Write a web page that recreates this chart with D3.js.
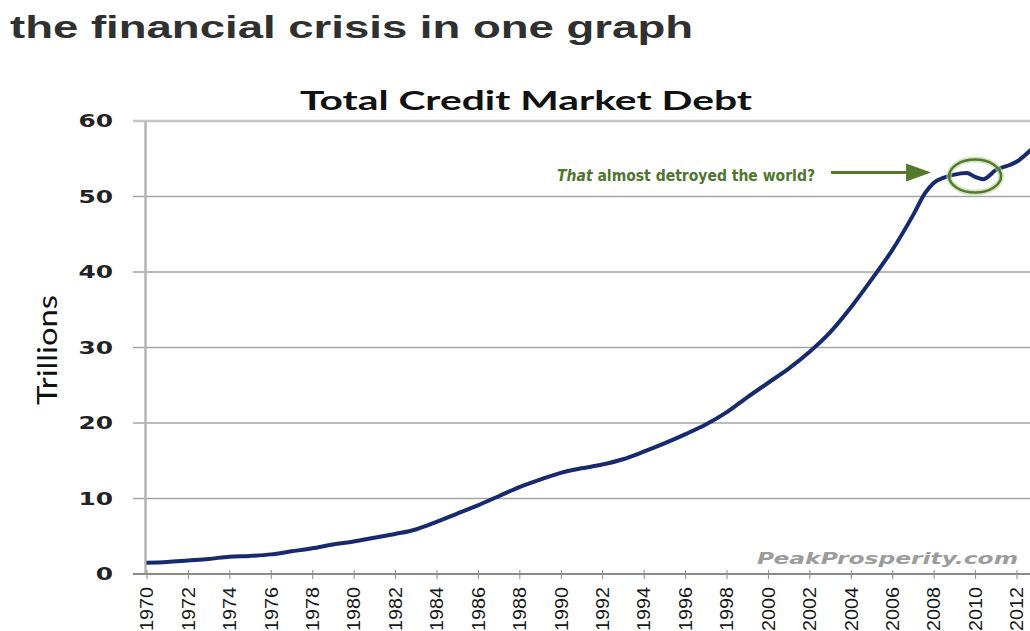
<!DOCTYPE html>
<html>
<head>
<meta charset="utf-8">
<script src="https://cdn.jsdelivr.net/npm/d3@7"></script>
<style>
  body { margin: 0; background: #fff; }
  svg { display: block; }
</style>
</head>
<body>
<svg width="1030" height="631"></svg>
<script>
// values (trillions of dollars)
let years = [1970, 1971, 1972, 1973, 1974, 1975, 1976, 1977, 1978, 1979,
             1980, 1981, 1982, 1983, 1984, 1985, 1986, 1987, 1988, 1989,
             1990, 1991, 1992, 1993, 1994, 1995, 1996, 1997, 1998, 1999,
             2000, 2001, 2002, 2003, 2004, 2005, 2006, 2007, 2007.6, 2008,
             2008.5, 2009, 2009.6, 2010, 2010.4, 2011, 2011.7, 2012, 2012.7];
let debt = [1.5, 1.6, 1.8, 2.0, 2.3, 2.4, 2.6, 3.0, 3.4, 3.9,
            4.3, 4.8, 5.3, 5.9, 6.9, 8.0, 9.1, 10.3, 11.5, 12.5,
            13.4, 14.0, 14.5, 15.2, 16.2, 17.3, 18.5, 19.8, 21.4, 23.4,
            25.3, 27.2, 29.4, 32.0, 35.3, 39.0, 42.9, 47.5, 50.5, 51.8,
            52.5, 52.9, 53.1, 52.6, 52.3, 53.5, 54.2, 54.6, 56.2];
let yTicks = [0, 10, 20, 30, 40, 50, 60];
let xTicks = d3.range(1970, 2013, 2);
let title = "the financial crisis in one graph";
let chartTitle = "Total Credit Market Debt";
let yLabel = "Trillions";
let note = ["That", " almost detroyed the world?"];
let noteYear = 2010, noteValue = 52.7;
let credit = "PeakProsperity.com";

let svg = d3.select("svg");

let x = d3.scaleLinear().domain([1970, 2012]).range([146.5, 1016.5]);
let y = d3.scaleLinear().domain([0, 60]).range([574, 121]);

// page title
svg.append("text")
  .attr("x", 10).attr("y", 38)
  .attr("font-family", "Liberation Sans, Arial, sans-serif")
  .attr("font-weight", "bold")
  .attr("font-size", 32)
  .attr("fill", "#303030")
  .attr("textLength", 683).attr("lengthAdjust", "spacingAndGlyphs")
  .text(title);

// chart title
svg.append("text")
  .attr("x", 300).attr("y", 110)
  .attr("font-family", "Lato, Open Sans, sans-serif")
  .attr("font-weight", "bold")
  .attr("font-size", 26)
  .attr("fill", "#111")
  .attr("textLength", 452).attr("lengthAdjust", "spacingAndGlyphs")
  .text(chartTitle);

// gridlines
svg.append("g").selectAll("line")
  .data(yTicks.filter(d => d > 0))
  .enter().append("line")
  .attr("x1", 133).attr("x2", 1030)
  .attr("y1", d => y(d)).attr("y2", d => y(d))
  .attr("stroke", d => d == 60 ? "#c4c4c4" : "#a4a4a4")
  .attr("stroke-width", d => d == 60 ? 2.5 : 1.6);

// y axis
let gy = svg.append("g")
  .attr("transform", "translate(145,0)")
  .call(d3.axisLeft(y).tickValues(yTicks).tickSize(0).tickPadding(0));
gy.select(".domain")
  .attr("stroke", "#b4b4b4").attr("stroke-width", 2.5);
gy.selectAll("text")
  .attr("font-family", "DejaVu Sans, Verdana, sans-serif")
  .attr("font-weight", "bold")
  .attr("font-size", 18)
  .attr("fill", "#222")
  .attr("x", -32 / 1.38)
  .attr("transform", "scale(1.38,1)");

svg.append("text")
  .attr("transform", "translate(57,350) rotate(-90)")
  .attr("text-anchor", "middle")
  .attr("font-family", "Lato, Open Sans, sans-serif")
  .attr("font-size", 27)
  .attr("fill", "#111")
  .attr("textLength", 110).attr("lengthAdjust", "spacingAndGlyphs")
  .text(yLabel);

// x axis
let gx = svg.append("g")
  .attr("transform", "translate(0," + y(0) + ")")
  .call(d3.axisBottom(x).tickValues(xTicks).tickFormat(d3.format("d")).tickSize(5).tickSizeOuter(0));
gx.select(".domain").remove();
gx.append("line")
  .attr("x1", 133).attr("x2", 1030)
  .attr("stroke", "#8a8a8a").attr("stroke-width", 2);
gx.selectAll(".tick line")
  .attr("stroke", "#8a8a8a").attr("y1", -4).attr("y2", 5);
gx.selectAll(".tick text")
  .attr("font-family", "Liberation Sans, Arial, sans-serif")
  .attr("font-size", 18)
  .attr("fill", "#1a1a1a")
  .attr("text-anchor", "end")
  .attr("x", -13).attr("y", 0).attr("dy", "0.35em")
  .attr("textLength", 44).attr("lengthAdjust", "spacingAndGlyphs")
  .attr("transform", "rotate(-90)");

// watermark
svg.append("text")
  .attr("x", 757).attr("y", 564)
  .attr("font-family", "DejaVu Sans, Verdana, sans-serif")
  .attr("font-weight", "bold")
  .attr("font-style", "italic")
  .attr("font-size", 16)
  .attr("fill", "#9c9c9c")
  .attr("textLength", 261).attr("lengthAdjust", "spacingAndGlyphs")
  .text(credit);

// the debt line
let line = d3.line()
  .x((d, i) => x(years[i]))
  .y(d => y(d))
  .curve(d3.curveMonotoneX);
svg.append("path")
  .datum(debt)
  .attr("fill", "none")
  .attr("stroke", "#172a6e")
  .attr("stroke-width", 4)
  .attr("stroke-linejoin", "round")
  .attr("d", line);

// annotation
let green = "#55792b";
let cx = x(noteYear), cy = y(noteValue);
svg.append("ellipse")
  .attr("cx", cx).attr("cy", cy)
  .attr("rx", 26).attr("ry", 16.5)
  .attr("fill", "none")
  .attr("stroke", "#b9d6a4").attr("stroke-width", 6).attr("opacity", 0.6);
svg.append("ellipse")
  .attr("cx", cx).attr("cy", cy)
  .attr("rx", 26).attr("ry", 16.5)
  .attr("fill", "none")
  .attr("stroke", green).attr("stroke-width", 2.5);

let tipX = cx - 44, tipY = cy - 3.5;
svg.append("line")
  .attr("x1", tipX - 100).attr("x2", tipX - 20)
  .attr("y1", tipY).attr("y2", tipY)
  .attr("stroke", green).attr("stroke-width", 3);
svg.append("path")
  .attr("d", "M" + tipX + "," + tipY + "L" + (tipX - 25) + "," + (tipY - 9) +
             "L" + (tipX - 25) + "," + (tipY + 9) + "Z")
  .attr("fill", green);

let nt = svg.append("text")
  .attr("x", 557).attr("y", tipY + 8)
  .attr("font-family", "DejaVu Sans, Verdana, sans-serif")
  .attr("font-weight", "bold")
  .attr("font-size", 15)
  .attr("fill", "#4f7530")
  .attr("textLength", 258).attr("lengthAdjust", "spacingAndGlyphs");
nt.append("tspan").attr("font-style", "italic").text(note[0]);
nt.append("tspan").text(note[1]);
</script>
</body>
</html>
